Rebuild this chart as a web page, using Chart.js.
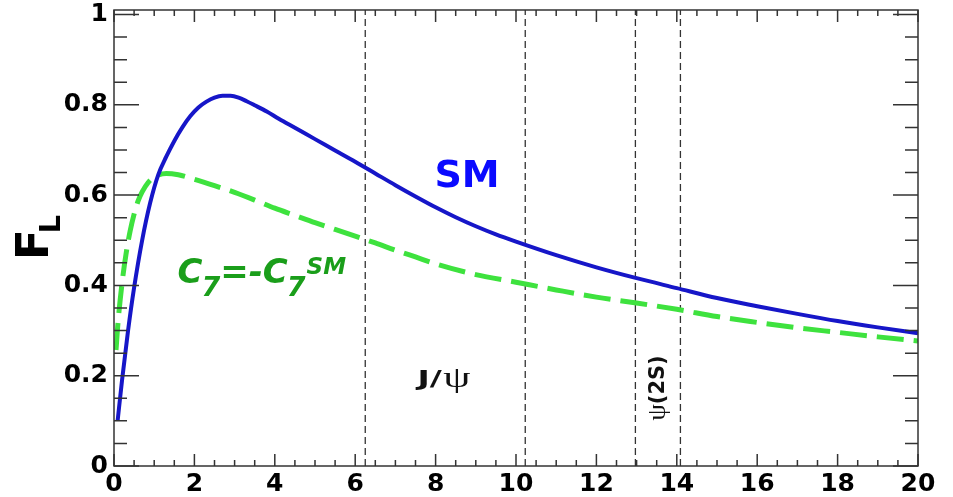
<!DOCTYPE html>
<html>
<head>
<meta charset="utf-8">
<script src="https://cdn.jsdelivr.net/npm/chart.js@4/dist/chart.umd.min.js"></script>
<style>
  html, body { margin: 0; padding: 0; background: #fff; }
  canvas { display: block; }
</style>
</head>
<body>
<canvas id="c" width="953" height="497"></canvas>
<script>
// Longitudinal polarisation fraction F_L versus q^2 (GeV^2)

// Standard Model prediction
const smQ2 = [0.09, 0.2, 0.35, 0.5, 0.7, 0.9, 1.1, 1.3, 1.5, 1.7, 1.9, 2.1, 2.3, 2.5, 2.7, 2.9, 3.1, 3.3, 3.5, 3.8, 4.1, 4.5, 5.0, 5.5, 6.0, 6.5, 7.0, 7.5, 8.0, 8.5, 9.0, 9.5, 10.0, 11.0, 12.0, 13.0, 14.0, 15.0, 16.0, 17.0, 18.0, 19.0, 20.0];
const smFL = [0.100, 0.190, 0.300, 0.395, 0.500, 0.583, 0.645, 0.685, 0.720, 0.750, 0.775, 0.794, 0.807, 0.816, 0.820, 0.820, 0.816, 0.808, 0.799, 0.785, 0.769, 0.749, 0.724, 0.699, 0.674, 0.648, 0.622, 0.597, 0.573, 0.551, 0.531, 0.513, 0.497, 0.467, 0.440, 0.416, 0.394, 0.372, 0.354, 0.337, 0.321, 0.307, 0.294];

// Scenario with flipped sign of C7
const flipQ2 = [0.05, 0.1, 0.2, 0.3, 0.4, 0.5, 0.6, 0.7, 0.85, 1.0, 1.3, 1.6, 2.0, 2.5, 3.0, 3.5, 4.0, 4.5, 5.0, 5.5, 6.0, 6.5, 7.0, 7.5, 8.0, 9.0, 10.0, 11.0, 12.0, 13.0, 14.0, 15.0, 16.0, 17.0, 18.0, 19.0, 20.0];
const flipFL = [0.257, 0.318, 0.405, 0.470, 0.520, 0.558, 0.587, 0.607, 0.628, 0.640, 0.648, 0.645, 0.635, 0.621, 0.606, 0.589, 0.571, 0.555, 0.539, 0.524, 0.509, 0.494, 0.478, 0.463, 0.448, 0.424, 0.407, 0.390, 0.374, 0.361, 0.347, 0.331, 0.318, 0.306, 0.296, 0.286, 0.277];

// Edges of the J/psi and psi(2S) veto windows
const vetoEdges = [6.25, 10.23, 12.97, 14.09];

// Axis ticks
const xTicks = [0, 2, 4, 6, 8, 10, 12, 14, 16, 18, 20];
const xTickLabels = ['0', '2', '4', '6', '8', '10', '12', '14', '16', '18', '20'];
const yTicks = [0, 0.2, 0.4, 0.6, 0.8, 1];
const yTickLabels = ['0', '0.2', '0.4', '0.6', '0.8', '1'];

const X_MIN = 0, X_MAX = 20, Y_MIN = 0, Y_MAX = 1.01;

const pts = (xs, ys) => xs.map((v, i) => ({ x: v, y: ys[i] }));

const vetoSets = vetoEdges.map(v => ({
  data: [{ x: v, y: Y_MIN }, { x: v, y: Y_MAX }],
  borderColor: '#333333',
  borderWidth: 1.3,
  borderDash: [7, 4],
  pointRadius: 0,
  fill: false
}));

// Frame with inward ticks on all four sides (ROOT style)
const framePlugin = {
  id: 'frame',
  afterDatasetsDraw(chart) {
    const { ctx, chartArea: a, scales: { x, y } } = chart;
    ctx.save();
    ctx.strokeStyle = '#333333';
    ctx.lineWidth = 1.5;
    ctx.strokeRect(a.left, a.top, a.right - a.left, a.bottom - a.top);
    ctx.beginPath();
    for (let i = 0; i <= 40; i++) {
      const px = x.getPixelForValue(i * 0.5);
      const len = i % 4 === 0 ? 12 : 6;
      ctx.moveTo(px, a.bottom); ctx.lineTo(px, a.bottom - len);
      ctx.moveTo(px, a.top); ctx.lineTo(px, a.top + len);
    }
    for (let i = 0; i <= 20; i++) {
      const py = y.getPixelForValue(i * 0.05);
      const len = i % 4 === 0 ? 25 : 13;
      ctx.moveTo(a.left, py); ctx.lineTo(a.left + len, py);
      ctx.moveTo(a.right, py); ctx.lineTo(a.right - len, py);
    }
    ctx.stroke();
    ctx.restore();
  }
};

// Curve labels, resonance labels and the axis title
const textPlugin = {
  id: 'texts',
  afterDraw(chart) {
    const { ctx, scales: { x, y } } = chart;
    ctx.save();
    ctx.textAlign = 'left';
    ctx.textBaseline = 'alphabetic';

    // SM
    ctx.fillStyle = '#0a0aff';
    ctx.font = 'bold 38px "DejaVu Sans"';
    ctx.fillText('SM', x.getPixelForValue(7.97), y.getPixelForValue(0.618));

    // C7 = -C7^SM
    ctx.fillStyle = '#1a9e1a';
    let px = x.getPixelForValue(1.58);
    const base = y.getPixelForValue(0.405);
    const big = 'italic bold 34px "DejaVu Sans"';
    const sub = 'italic bold 27px "DejaVu Sans"';
    const sup = 'italic bold 23px "DejaVu Sans"';
    const put = (t, f, dy, gap) => {
      ctx.font = f;
      ctx.fillText(t, px, base + dy);
      px += ctx.measureText(t).width + gap;
    };
    put('C', big, 0, -1);
    put('7', sub, 13, 0);
    put('=', big, 0, 0);
    put('-', big, 0, 0);
    put('C', big, 0, -1);
    put('7', sub, 13, 1);
    put('SM', sup, -9, 0);

    // J/psi (wide lettering)
    ctx.save();
    ctx.fillStyle = '#111111';
    ctx.translate(x.getPixelForValue(7.55), y.getPixelForValue(0.177));
    ctx.scale(1.5, 1);
    ctx.font = 'bold 22px "DejaVu Sans"';
    ctx.fillText('J/', 0, 0);
    const wJ = ctx.measureText('J/').width;
    ctx.font = '29px "Liberation Serif"';
    ctx.fillText('\u03C8', wJ + 1, 1);
    ctx.restore();

    // psi(2S), rotated
    ctx.save();
    ctx.fillStyle = '#111111';
    ctx.translate(x.getPixelForValue(13.67), y.getPixelForValue(0.173));
    ctx.rotate(-Math.PI / 2);
    ctx.font = '26px "Liberation Serif"';
    const wPsi = ctx.measureText('\u03C8').width;
    ctx.font = 'bold 21px "DejaVu Sans"';
    const wRest = ctx.measureText('(2S)').width;
    const tx = -(wPsi + wRest) / 2;
    ctx.font = '26px "Liberation Serif"';
    ctx.fillText('\u03C8', tx, 1);
    ctx.font = 'bold 21px "DejaVu Sans"';
    ctx.fillText('(2S)', tx + wPsi, 0);
    ctx.restore();

    // Y axis title F_L
    ctx.save();
    ctx.fillStyle = '#000000';
    ctx.translate(48, y.getPixelForValue(0.456));
    ctx.rotate(-Math.PI / 2);
    ctx.font = 'bold 45px "DejaVu Sans"';
    ctx.fillText('F', 0, 0);
    const wF = ctx.measureText('F').width;
    ctx.font = 'bold 29px "DejaVu Sans"';
    ctx.fillText('L', wF - 4, 12);
    ctx.restore();

    ctx.restore();
  }
};

const tickFont = { family: 'DejaVu Sans', size: 25, weight: 'bold' };

new Chart(document.getElementById('c'), {
  type: 'line',
  data: {
    datasets: [
      {
        data: pts(smQ2, smFL),
        borderColor: '#1616c8',
        borderWidth: 4,
        pointRadius: 0,
        cubicInterpolationMode: 'monotone',
        fill: false
      },
      {
        data: pts(flipQ2, flipFL),
        borderColor: '#3ee23e',
        borderWidth: 5,
        borderDash: [27, 10],
        pointRadius: 0,
        cubicInterpolationMode: 'monotone',
        fill: false
      },
      ...vetoSets
    ]
  },
  options: {
    responsive: false,
    animation: false,
    devicePixelRatio: 1,
    layout: { padding: { left: 0, right: 35, top: 10, bottom: 0 } },
    plugins: { legend: { display: false }, tooltip: { enabled: false } },
    scales: {
      x: {
        type: 'linear',
        min: X_MIN,
        max: X_MAX,
        grid: { display: false, drawTicks: false },
        border: { display: false },
        afterBuildTicks: s => { s.ticks = xTicks.map(v => ({ value: v })); },
        ticks: {
          autoSkip: false,
          maxRotation: 0,
          color: '#000',
          font: tickFont,
          padding: 3,
          callback: (v, i) => xTickLabels[i]
        },
        afterFit: s => { s.height = 31; s.paddingLeft = 0; s.paddingRight = 0; }
      },
      y: {
        type: 'linear',
        min: Y_MIN,
        max: Y_MAX,
        grid: { display: false, drawTicks: false },
        border: { display: false },
        afterBuildTicks: s => { s.ticks = yTicks.map(v => ({ value: v })); },
        ticks: {
          autoSkip: false,
          color: '#000',
          font: tickFont,
          padding: 6,
          callback: (v, i) => yTickLabels[i]
        },
        afterFit: s => { s.width = 114; s.paddingTop = 0; s.paddingBottom = 0; }
      }
    }
  },
  plugins: [framePlugin, textPlugin]
});
</script>
</body>
</html>
